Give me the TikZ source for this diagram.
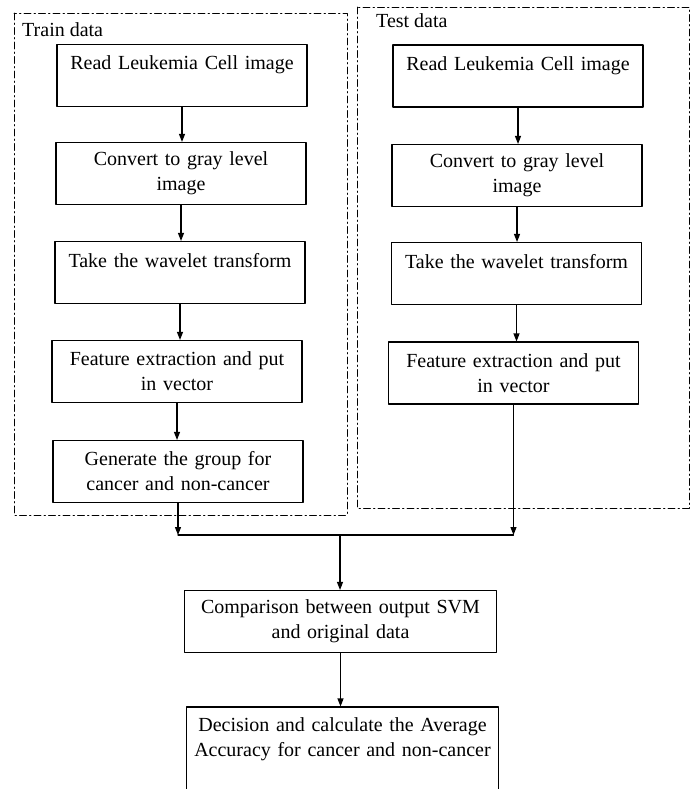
\documentclass[tikz,border=0pt]{standalone}
\usepackage{fontspec}
\setmainfont{Liberation Serif}
\usetikzlibrary{arrows.meta}
\begin{document}
\begin{tikzpicture}[x=1pt,y=-1pt,line cap=round,line join=round,font=\fontsize{20}{25}\selectfont,
	stepbox/.style={draw,line width=1.1pt,align=center,inner sep=2pt,text width=244pt,minimum width=250pt,minimum height=62pt},
	widebox/.style={stepbox,text width=306pt,minimum width=312pt},
	frame/.style={line width=0.8pt,dash pattern=on 7pt off 3pt on 1.5pt off 3pt},
	flow/.style={line width=1.1pt,-{Triangle[length=8pt,width=6pt]}}]
	\useasboundingbox (0,0) rectangle (697,789);
	% the two dash-dot frames
	\draw[frame] (14,13) rectangle (347,515);
	\draw[frame] (357,7) rectangle (689,508);
	\node[anchor=west,inner sep=0pt] (trainlbl) at (22,30) {Train data};
	\node[anchor=west,inner sep=0pt] (testlbl) at (376,21) {Test data};
	% train column
	\node[stepbox] (tr1) at (182,75.5) {Read Leukemia Cell image\\\mbox{}};
	\node[stepbox] (tr2) at (181,173.5) {Convert to gray level\\image};
	\node[stepbox] (tr3) at (180,272.5) {Take the wavelet transform\\\mbox{}};
	\node[stepbox] (tr4) at (177,371.5) {Feature extraction and put\\in vector};
	\node[stepbox] (tr5) at (178,471.5) {Generate the group for\\cancer and non-cancer};
	% test column
	\node[stepbox] (te1) at (518,76) {Read Leukemia Cell image\\\mbox{}};
	\node[stepbox] (te2) at (517,175.5) {Convert to gray level\\image};
	\node[stepbox] (te3) at (516.5,273.5) {Take the wavelet transform\\\mbox{}};
	\node[stepbox] (te4) at (513.5,373) {Feature extraction and put\\in vector};
	% common part
	\node[widebox] (cmp) at (340.5,621.5) {Comparison between output SVM\\and original data};
	\node[widebox,minimum height=86pt] (dec) at (342.5,750) {Decision and calculate the Average\\Accuracy for cancer and non-cancer\\\mbox{}};
	\coordinate (join) at (340,535);
	\foreach \a/\b in {1/2,2/3,3/4,4/5}{\draw[flow] (tr\a.south) -- (tr\a.south |- tr\b.north);}
	\foreach \a/\b in {1/2,2/3,3/4}{\draw[flow] (te\a.south) -- (te\a.south |- te\b.north);}
	\draw[flow] (tr5.south) -- (tr5.south |- join);
	\draw[flow] (te4.south) -- (te4.south |- join);
	\draw[line width=1.1pt] (tr5.south |- join) -- (te4.south |- join);
	\draw[flow] (join) -- (join |- cmp.north);
	\draw[flow] (cmp.south) -- (cmp.south |- dec.north);
\end{tikzpicture}
\end{document}
